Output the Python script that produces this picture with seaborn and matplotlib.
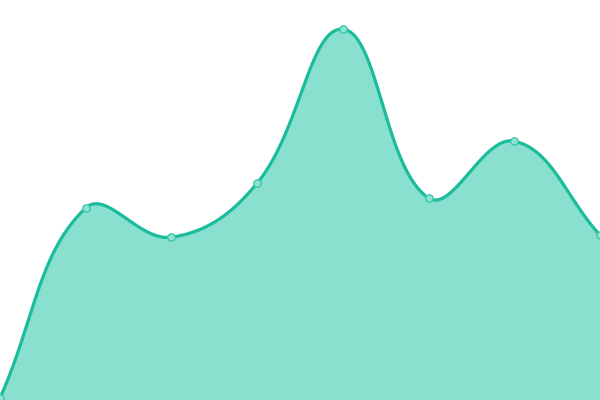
import numpy as np
import pandas as pd
import matplotlib
matplotlib.use("Agg")
import matplotlib.pyplot as plt
import seaborn as sns

# data (y axis 0..100, x = category index)
positions = [0, 1, 2, 3, 4, 5, 6, 7]
values = [0.5, 48, 40.7, 54.2, 92.7, 50.5, 64.7, 41.2]

line_color = "#1abc9c"
fill_color = "#89e0cf"
tension = 0.4

sns.set_theme(style="white")

fig = plt.figure(figsize=(6, 4), dpi=100)
ax = fig.add_axes([0, 0, 1, 1])
ax.set_xlim(0, 7)
ax.set_ylim(0, 100)
ax.set_axis_off()

# spline control points computed in screen space, like a tension spline
pts = ax.transData.transform(np.column_stack([positions, values]))
n = len(pts)
curve = [pts[0]]
cps = []
for i in range(n):
    prev = pts[max(i - 1, 0)]
    cur = pts[i]
    nxt = pts[min(i + 1, n - 1)]
    d01 = np.hypot(*(cur - prev))
    d12 = np.hypot(*(nxt - cur))
    tot = d01 + d12
    s01 = d01 / tot if tot else 0
    s12 = d12 / tot if tot else 0
    cps.append((cur - tension * s01 * (nxt - prev), cur + tension * s12 * (nxt - prev)))

t = np.linspace(0, 1, 60)[1:, None]
for i in range(n - 1):
    p0, p3 = pts[i], pts[i + 1]
    c1, c2 = cps[i][1], cps[i + 1][0]
    seg = ((1 - t) ** 3) * p0 + 3 * ((1 - t) ** 2) * t * c1 + 3 * (1 - t) * t ** 2 * c2 + t ** 3 * p3
    curve.extend(seg)
curve = ax.transData.inverted().transform(np.array(curve))

df = pd.DataFrame({"x": curve[:, 0], "y": curve[:, 1]})
ax.fill_between(df["x"], df["y"], 0, color=fill_color, lw=0)
sns.lineplot(data=df, x="x", y="y", sort=False, ax=ax, color=line_color, lw=2.3)
sns.scatterplot(x=positions, y=values, ax=ax, s=28, color="#8fe3d2",
                edgecolor="#3fc7aa", linewidth=1, zorder=5, clip_on=False)
ax.set_xlim(0, 7)
ax.set_ylim(0, 100)
ax.set_axis_off()

fig.savefig("out.png", dpi=100)
